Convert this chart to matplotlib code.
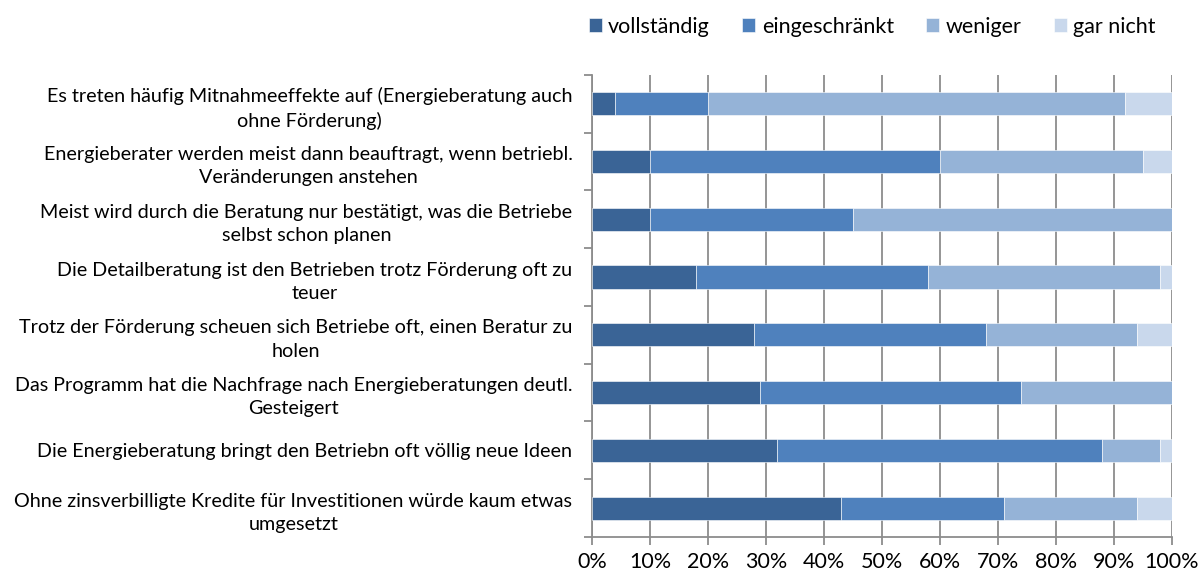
import numpy as np
import matplotlib.pyplot as plt
from matplotlib.ticker import FuncFormatter, MultipleLocator

plt.rcParams['font.family'] = ['Lato', 'DejaVu Sans']

# Aussagen von oben nach unten
labels = [
    "Es treten häufig Mitnahmeeffekte auf (Energieberatung auch\nohne Förderung)",
    "Energieberater werden meist dann beauftragt, wenn betriebl.\nVeränderungen anstehen",
    "Meist wird durch die Beratung nur bestätigt, was die Betriebe\nselbst schon planen",
    "Die Detailberatung ist den Betrieben trotz Förderung oft zu\nteuer",
    "Trotz der Förderung scheuen sich Betriebe oft, einen Beratur zu\nholen",
    "Das Programm hat die Nachfrage nach Energieberatungen deutl.\nGesteigert",
    "Die Energieberatung bringt den Betriebn oft völlig neue Ideen",
    "Ohne zinsverbilligte Kredite für Investitionen würde kaum etwas\numgesetzt",
]
series = ["vollständig", "eingeschränkt", "weniger", "gar nicht"]
vollstaendig = [4, 10, 10, 18, 28, 29, 32, 43]
eingeschraenkt = [16, 50, 35, 40, 40, 45, 56, 28]
weniger = [72, 35, 55, 40, 26, 26, 10, 23]
gar_nicht = [8, 5, 0, 2, 6, 0, 2, 6]
colors = ["#3A6496", "#4F81BD", "#95B3D7", "#C9D8EC"]

values = [vollstaendig, eingeschraenkt, weniger, gar_nicht]

fig = plt.figure(figsize=(12.03, 5.75), dpi=100)
ax = fig.add_axes([0.492, 0.066, 0.482, 0.804])

y = np.arange(len(labels))
left = np.zeros(len(labels))
for name, vals, col in zip(series, values, colors):
    vals = np.array(vals, dtype=float)
    ax.barh(y, vals, left=left, height=0.4, color=col, label=name,
            edgecolor="white", linewidth=0.4, zorder=3)
    left += vals

ax.set_xlim(0, 100)
ax.set_ylim(len(labels) - 0.5, -0.5)
ax.xaxis.set_major_locator(MultipleLocator(10))
ax.xaxis.set_major_formatter(FuncFormatter(lambda v, p: f"{int(v)}%"))
ax.grid(axis="x", color="#8C8C8C", linewidth=1.3, zorder=0)

ax.set_yticks(y)
ax.set_yticklabels(labels, fontsize=14.2, ha="right", multialignment="center",
                   linespacing=1.45)
ax.set_yticks(np.arange(-0.5, len(labels)), minor=True)
ax.tick_params(axis="y", which="major", length=0, pad=14)
ax.tick_params(axis="y", which="minor", length=6, color="#8C8C8C", width=1.3)
ax.tick_params(axis="x", length=6, color="#8C8C8C", width=1.3, labelsize=15.5, pad=5)

for side in ["top", "right"]:
    ax.spines[side].set_visible(False)
for side in ["left", "bottom"]:
    ax.spines[side].set_color("#8C8C8C")
    ax.spines[side].set_linewidth(1.3)

fig.legend(loc="upper center", bbox_to_anchor=(0.725, 1.005), ncol=4, frameon=False,
           fontsize=15.5, handlelength=0.6, handleheight=0.6, handletextpad=0.3,
           columnspacing=1.5)

fig.savefig("out.png", dpi=100)
